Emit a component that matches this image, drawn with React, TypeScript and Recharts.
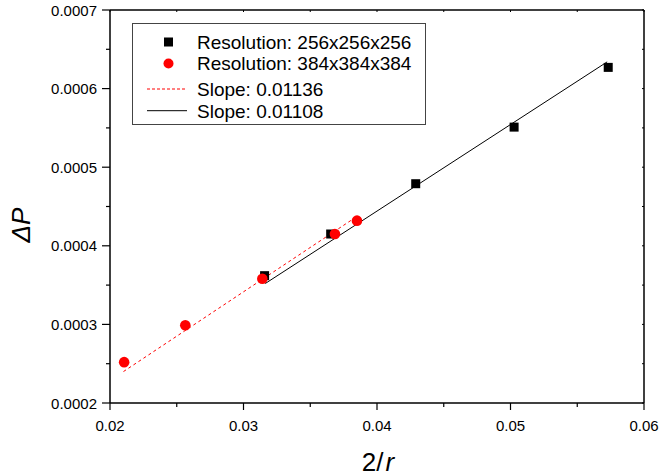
import { ComposedChart, Scatter, XAxis, YAxis, Legend, Label } from "recharts";

// series
const res256 = [
  { x: 0.03158, y: 0.000362 },
  { x: 0.03653, y: 0.000415 },
  { x: 0.0429, y: 0.000479 },
  { x: 0.05027, y: 0.000551 },
  { x: 0.05732, y: 0.000627 },
];

const res384 = [
  { x: 0.02106, y: 0.000252 },
  { x: 0.02564, y: 0.000299 },
  { x: 0.03141, y: 0.000358 },
  { x: 0.03685, y: 0.000415 },
  { x: 0.0385, y: 0.000432 },
];

// fitted lines, end points
const fit384 = [
  { x: 0.02101, y: 0.00024 },
  { x: 0.0382, y: 0.000434 },
];

const fit256 = [
  { x: 0.03163, y: 0.000352 },
  { x: 0.05724, y: 0.000634 },
];

const xTicks = [0.02, 0.025, 0.03, 0.035, 0.04, 0.045, 0.05, 0.055, 0.06];
const yTicks = [0.0002, 0.00025, 0.0003, 0.00035, 0.0004, 0.00045, 0.0005, 0.00055, 0.0006, 0.00065, 0.0007];

const legendItems = [
  { label: "Resolution: 256x256x256", kind: "square" },
  { label: "Resolution: 384x384x384", kind: "circle" },
  { label: "Slope: 0.01136", kind: "dash" },
  { label: "Slope: 0.01108", kind: "line" },
];

const FONT = '"Liberation Sans", Arial, sans-serif';
const RED = "#ff0000";

const isMajor = (v: number, step: number) => Math.abs(v / step - Math.round(v / step)) < 1e-6;

const BottomTick = ({ x, y, payload }: any) => {
  const major = isMajor(payload.value, 0.01);
  return (
    <g>
      <line x1={x} x2={x} y1={y} y2={y + (major ? 7 : 4)} stroke="#000" strokeWidth={1.2} />
      {major && (
        <text x={x} y={y + 28} textAnchor="middle" fontSize={15} fontFamily={FONT} fill="#000">
          {payload.value.toFixed(2)}
        </text>
      )}
    </g>
  );
};

const LeftTick = ({ x, y, payload }: any) => {
  const major = isMajor(payload.value, 0.0001);
  return (
    <g>
      <line x1={x} x2={x - (major ? 8 : 4)} y1={y} y2={y} stroke="#000" strokeWidth={1.2} />
      {major && (
        <text x={x - 13} y={y + 5.5} textAnchor="end" fontSize={15} fontFamily={FONT} fill="#000">
          {payload.value.toFixed(4)}
        </text>
      )}
    </g>
  );
};

const TopTick = ({ x, y }: any) => <line x1={x} x2={x} y1={y} y2={y + 2} stroke="#000" strokeWidth={1} />;
const RightTick = ({ x, y }: any) => <line x1={x} x2={x - 2} y1={y} y2={y} stroke="#000" strokeWidth={1} />;

const LegendBox = () => {
  const centers = [18, 39.5, 65, 86.7];
  return (
    <div style={{ width: 292, height: 100, border: "1px solid #444", background: "#fff" }}>
      <svg width={292} height={100} style={{ display: "block" }}>
        {legendItems.map((it, i) => {
          const cy = centers[i];
          return (
            <g key={it.label}>
              {it.kind === "square" && <rect x={31} y={cy - 4.5} width={9} height={9} fill="#000" />}
              {it.kind === "circle" && <circle cx={35.5} cy={cy} r={5} fill={RED} />}
              {it.kind === "dash" && <line x1={14} x2={54} y1={cy} y2={cy} stroke={RED} strokeWidth={1} strokeDasharray="3 2" />}
              {it.kind === "line" && <line x1={14} x2={54} y1={cy} y2={cy} stroke="#000" strokeWidth={1} />}
              <text x={64} y={cy + 6.8} fontSize={19} fontFamily={FONT} fill="#000">
                {it.label}
              </text>
            </g>
          );
        })}
      </svg>
    </div>
  );
};

export default function App() {
  return (
    <div style={{ position: "absolute", left: 0, top: 0, width: 659, height: 476, background: "#fff" }}>
      <ComposedChart width={659} height={476} margin={{ top: 9, right: 14, bottom: 0, left: 0 }}>
        <XAxis
          xAxisId="b"
          type="number"
          dataKey="x"
          domain={[0.02, 0.06]}
          ticks={xTicks}
          allowDataOverflow
          height={73}
          tickSize={0}
          tickMargin={0}
          tickLine={false}
          tick={<BottomTick />}
          axisLine={{ stroke: "#000", strokeWidth: 1.5 }}
          interval={0}
        >
          <Label
            content={() => (
              <text x={378} y={471} textAnchor="middle" fontSize={26} fontFamily={FONT} fill="#000">
                2/<tspan fontStyle="italic" dx={2}>r</tspan>
              </text>
            )}
          />
        </XAxis>
        <XAxis
          xAxisId="t"
          orientation="top"
          type="number"
          dataKey="x"
          domain={[0.02, 0.06]}
          ticks={xTicks}
          allowDataOverflow
          height={1}
          tickSize={0}
          tickMargin={0}
          tickLine={false}
          tick={<TopTick />}
          axisLine={{ stroke: "#000", strokeWidth: 1.5 }}
          interval={0}
        />
        <YAxis
          yAxisId="l"
          type="number"
          dataKey="y"
          domain={[0.0002, 0.0007]}
          ticks={yTicks}
          allowDataOverflow
          width={110}
          tickSize={0}
          tickMargin={0}
          tickLine={false}
          tick={<LeftTick />}
          axisLine={{ stroke: "#000", strokeWidth: 1.5 }}
          interval={0}
        >
          <Label
            content={() => (
              <text
                x={30}
                y={225}
                transform="rotate(-90, 30, 225)"
                textAnchor="middle"
                fontSize={26}
                fontStyle="italic"
                fontFamily={FONT}
                fill="#000"
              >
                ΔP
              </text>
            )}
          />
        </YAxis>
        <YAxis
          yAxisId="r"
          orientation="right"
          type="number"
          dataKey="y"
          domain={[0.0002, 0.0007]}
          ticks={yTicks}
          allowDataOverflow
          width={1}
          tickSize={0}
          tickMargin={0}
          tickLine={false}
          tick={<RightTick />}
          axisLine={{ stroke: "#000", strokeWidth: 1.5 }}
          interval={0}
        />
        <Legend
          layout="vertical"
          align="center"
          verticalAlign="middle"
          content={<LegendBox />}
          wrapperStyle={{ position: "absolute", left: 132, top: 23, width: 294, height: 102 }}
        />
        <Scatter
          name="fit384"
          xAxisId="b"
          yAxisId="l"
          data={fit384}
          line={{ stroke: RED, strokeWidth: 1, strokeDasharray: "3 3" }}
          shape={() => <g />}
          isAnimationActive={false}
        />
        <Scatter
          name="fit256"
          xAxisId="b"
          yAxisId="l"
          data={fit256}
          line={{ stroke: "#000", strokeWidth: 1 }}
          shape={() => <g />}
          isAnimationActive={false}
        />
        <Scatter
          name="res256"
          xAxisId="b"
          yAxisId="l"
          data={res256}
          shape={(p: any) => <rect x={p.cx - 4.5} y={p.cy - 4.5} width={9} height={9} fill="#000" />}
          isAnimationActive={false}
        />
        <Scatter
          name="res384"
          xAxisId="b"
          yAxisId="l"
          data={res384}
          shape={(p: any) => <circle cx={p.cx} cy={p.cy} r={5.3} fill={RED} />}
          isAnimationActive={false}
        />
      </ComposedChart>
    </div>
  );
}
